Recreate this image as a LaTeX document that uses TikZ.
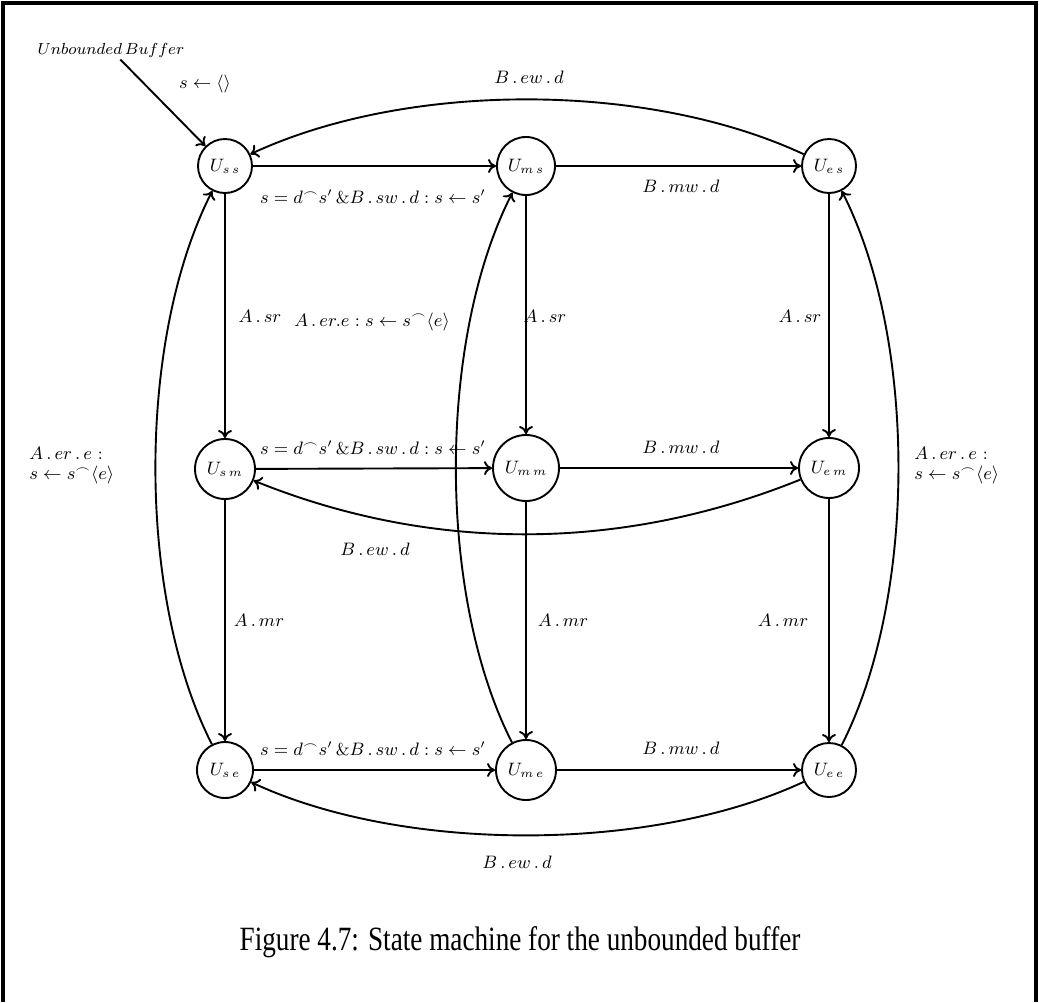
\documentclass[tikz,border=0pt]{standalone}
\usepackage{fontspec}
\usepackage{graphicx}
\newfontfamily\capfont{Liberation Serif}
\usetikzlibrary{arrows.meta}
\begin{document}
\begin{tikzpicture}[x=0.5pt,y=0.5pt,
  state/.style={circle,draw,line width=0.95pt,minimum size=27pt,inner sep=1pt,font=\fontsize{9}{10}\selectfont},
  lab/.style={font=\fontsize{8.6}{10}\selectfont,inner sep=1pt},
  edge/.style={line width=0.95pt,-{To[length=4pt,width=7pt]}}]
\useasboundingbox (0,-1002) rectangle (1039,0);
\draw[line width=1.6pt] (3,-1002) -- (3,-3) -- (1036,-3) -- (1036,-1002);
% states
\node[state] (Uss) at (225,-166) {$U_{s\,s}$};
\node[state,minimum size=29pt] (Ums) at (526,-166) {$U_{m\,s}$};
\node[state] (Ues) at (829,-166) {$U_{e\,s}$};
\node[state,minimum size=30pt] (Usm) at (225,-469) {$U_{s\,m}$};
\node[state,minimum size=33pt] (Umm) at (526,-468) {$U_{m\,m}$};
\node[state,minimum size=30pt] (Uem) at (829,-468) {$U_{e\,m}$};
\node[state,minimum size=28pt] (Use) at (225,-770) {$U_{s\,e}$};
\node[state,minimum size=30pt] (Ume) at (526,-770) {$U_{m\,e}$};
\node[state] (Uee) at (829,-770) {$U_{e\,e}$};
% initial
\node[lab,font=\fontsize{8}{9}\selectfont] (ub) at (111,-50) {$Unbounded\,Buffer$};
\node[lab] (init) at (205,-84) {$s\leftarrow\langle\rangle$};
\draw[edge] (ub) -- (Uss);
% horizontal edges
\draw[edge] (Uss) -- (Ums);
\draw[edge] (Ums) -- (Ues);
\draw[edge] (Usm) -- (Umm);
\draw[edge] (Umm) -- (Uem);
\draw[edge] (Use) -- (Ume);
\draw[edge] (Ume) -- (Uee);
% vertical edges
\draw[edge] (Uss) -- (Usm);
\draw[edge] (Ums) -- (Umm);
\draw[edge] (Ues) -- (Uem);
\draw[edge] (Usm) -- (Use);
\draw[edge] (Umm) -- (Ume);
\draw[edge] (Uem) -- (Uee);
% curved edges
\draw[edge] (Ues) to[out=155,in=25,looseness=0.8] (Uss);
\draw[edge] (Uem) to[out=202,in=338,looseness=0.9] (Usm);
\draw[edge] (Uee) to[out=205,in=335,looseness=0.78] (Use);
\draw[edge] (Use) to[out=117,in=243,looseness=0.77] (Uss);
\draw[edge] (Ume) to[out=117,in=243,looseness=0.77] (Ums);
\draw[edge] (Uee) to[out=63,in=297,looseness=0.77] (Ues);
% labels
\node[lab] (l1) at (529,-77) {$B\,.\,ew\,.\,d$};
\node[lab] (l2) at (373,-197) {$s=d^\frown s'\,\&B\,.\,sw\,.\,d:s\leftarrow s'$};
\node[lab] (l3) at (681,-186) {$B\,.\,mw\,.\,d$};
\node[lab] (l4) at (260,-316) {$A\,.\,sr$};
\node[lab] (l5) at (372,-322) {$A\,.\,er.e:s\leftarrow s^\frown\langle e\rangle$};
\node[lab] (l6) at (545,-316) {$A\,.\,sr$};
\node[lab] (l7) at (800,-316) {$A\,.\,sr$};
\node[lab,align=left,anchor=west] (l8) at (27,-466) {$A\,.\,er\,.\,e$ :\\ $s\leftarrow s^\frown\langle e\rangle$};
\node[lab,align=left,anchor=west] (l9) at (912,-466) {$A\,.\,er\,.\,e$ :\\ $s\leftarrow s^\frown\langle e\rangle$};
\node[lab] (l10) at (373,-448) {$s=d^\frown s'\,\&B\,.\,sw\,.\,d:s\leftarrow s'$};
\node[lab] (l11) at (681,-447) {$B\,.\,mw\,.\,d$};
\node[lab] (l12) at (375,-549) {$B\,.\,ew\,.\,d$};
\node[lab] (l13) at (259,-620) {$A\,.\,mr$};
\node[lab] (l14) at (563,-620) {$A\,.\,mr$};
\node[lab] (l15) at (783,-620) {$A\,.\,mr$};
\node[lab] (l16) at (373,-749) {$s=d^\frown s'\,\&B\,.\,sw\,.\,d:s\leftarrow s'$};
\node[lab] (l17) at (681,-748) {$B\,.\,mw\,.\,d$};
\node[lab] (l18) at (517,-862) {$B\,.\,ew\,.\,d$};
% caption
\node[anchor=base,inner sep=0pt,font=\capfont\fontsize{17}{19}\selectfont] (cap) at (520,-950) {\scalebox{0.8}[1]{Figure 4.7: State machine for the unbounded buffer}};
\end{tikzpicture}
\end{document}
